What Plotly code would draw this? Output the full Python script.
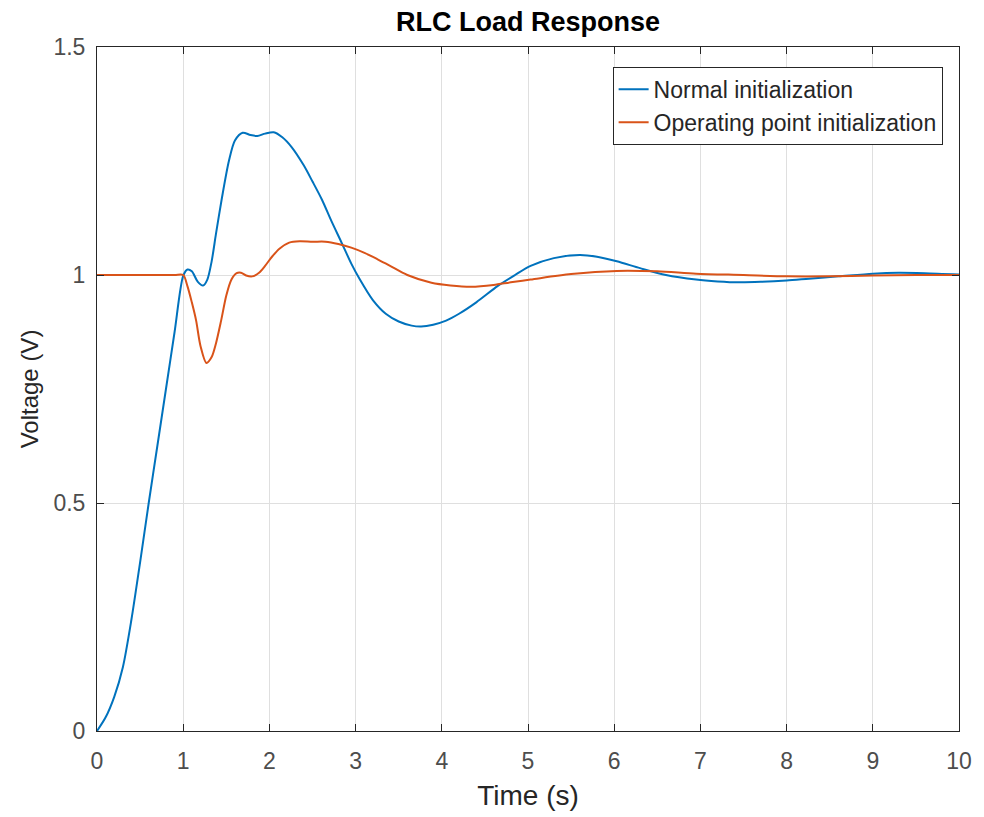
import plotly.graph_objects as go

t_normal = [0, 0.1, 0.2, 0.3, 0.4, 0.5, 0.6, 0.7, 0.8, 0.9, 1.0, 1.05, 1.1, 1.17, 1.23, 1.28, 1.33,
            1.38, 1.45, 1.53, 1.6, 1.69, 1.78, 1.86, 1.95, 2.05, 2.15, 2.26, 2.4, 2.5, 2.61, 2.72,
            2.84, 2.95, 3.05, 3.2, 3.35, 3.5, 3.65, 3.76, 3.9, 4.05, 4.2, 4.4, 4.65, 4.85, 5.03,
            5.3, 5.6, 5.8, 6.03, 6.3, 6.6, 6.95, 7.2, 7.45, 7.7, 8.0, 8.26, 8.6, 9.0, 9.3, 9.6, 10]
v_normal = [0, 0.03, 0.075, 0.14, 0.245, 0.37, 0.5, 0.625, 0.75, 0.875, 0.998, 1.012, 1.008, 0.985,
            0.977, 0.99, 1.03, 1.09, 1.17, 1.25, 1.295, 1.312, 1.307, 1.305, 1.31, 1.313, 1.302, 1.28,
            1.24, 1.205, 1.165, 1.118, 1.07, 1.025, 0.99, 0.945, 0.915, 0.898, 0.889, 0.887, 0.891,
            0.9, 0.915, 0.94, 0.976, 1.0, 1.02, 1.037, 1.044, 1.04, 1.03, 1.015, 1.0, 0.99, 0.986,
            0.984, 0.985, 0.988, 0.992, 0.997, 1.003, 1.005, 1.004, 1.001]

t_op = [0, 0.5, 0.9, 1.0, 1.05, 1.1, 1.15, 1.2, 1.27, 1.33, 1.38, 1.44, 1.5, 1.56, 1.62, 1.67, 1.73,
        1.8, 1.88, 1.95, 2.03, 2.12, 2.23, 2.35, 2.5, 2.65, 2.8, 2.95, 3.11, 3.25, 3.4, 3.6, 3.88,
        4.1, 4.34, 4.6, 4.8, 5.03, 5.5, 6.03, 6.5, 6.95, 7.5, 8.0, 8.5, 9.0, 9.5, 10]
v_op = [1, 1, 1, 1.0, 0.975, 0.94, 0.9, 0.845, 0.807, 0.82, 0.85, 0.9, 0.955, 0.99, 1.004, 1.005,
        0.999, 0.997, 1.005, 1.02, 1.04, 1.058, 1.071, 1.074, 1.073, 1.073, 1.068, 1.06, 1.048,
        1.035, 1.02, 1.0, 0.983, 0.977, 0.974, 0.978, 0.984, 0.99, 1.002, 1.009, 1.008, 1.003,
        1.0, 0.997, 0.997, 0.999, 1.0, 1.0]

fig = go.Figure()
fig.add_trace(go.Scatter(x=t_normal, y=v_normal, mode='lines', name='Normal initialization',
                         line=dict(color='#0072BD', width=2, shape='spline', smoothing=0.8)))
fig.add_trace(go.Scatter(x=t_op, y=v_op, mode='lines', name='Operating point initialization',
                         line=dict(color='#D95319', width=2, shape='spline', smoothing=0.8)))

axis_style = dict(showline=True, linecolor='#262626', linewidth=1, mirror='ticks',
                  ticks='inside', ticklen=7, tickcolor='#262626',
                  showgrid=True, gridcolor='#dfdfdf', gridwidth=1, zeroline=False,
                  tickfont=dict(size=23, color='#4d4d4d'))

fig.update_xaxes(range=[0, 10], dtick=1, ticklabelstandoff=9,
                 title=dict(text='Time (s)', font=dict(size=28, color='#262626'), standoff=12), **axis_style)
fig.update_yaxes(range=[0, 1.5], dtick=0.5, ticklabelstandoff=6,
                 title=dict(text='Voltage (V)', font=dict(size=24, color='#262626'), standoff=8), **axis_style)

fig.update_layout(
    width=976, height=809,
    margin=dict(l=89, r=20, t=39, b=85),
    paper_bgcolor='white', plot_bgcolor='white',
    font=dict(family='Liberation Sans, Arial, sans-serif', color='#262626'),
    title=dict(text='<b>RLC Load Response</b>', x=0.5, xref='paper', xanchor='center',
               y=0.983, yanchor='middle', font=dict(size=27, color='#000000')),
    legend=dict(x=0.981, y=0.971, xanchor='right', yanchor='top',
                bordercolor='#262626', borderwidth=1, bgcolor='white',
                font=dict(size=23, color='#262626'), tracegroupgap=0),
    showlegend=True,
)

fig.write_html("out.html")
